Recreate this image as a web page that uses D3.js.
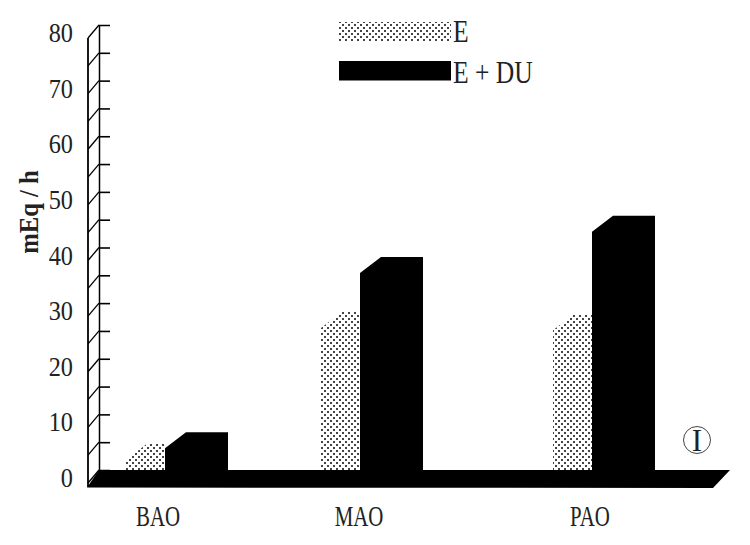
<!DOCTYPE html>
<html><head><meta charset="utf-8">
<script src="https://cdn.jsdelivr.net/npm/d3@7"></script>
<style>html,body{margin:0;padding:0;background:#fff}svg{display:block}text{font-family:"Liberation Serif",serif;fill:#222}</style>
</head><body><svg id="c" width="750" height="545"></svg>
<script>
const categories = ["BAO", "MAO", "PAO"];
const seriesNames = ["E", "E + DU"];
const valuesE = [4.7, 28.4, 28];
const valuesEDU = [6.8, 38.3, 45.7];
const yTicks = d3.range(0, 81, 5);
const yLabels = d3.range(0, 81, 10);
const yTitle = "mEq / h";
const panelLabel = "I";

const svg = d3.select("#c");
const y = d3.scaleLinear().domain([0, 80]).range([470, 25]);
const x = d3.scaleOrdinal().domain(categories).range([165, 360, 592]);
const xLabel = d3.scaleOrdinal().domain(categories).range([158, 359, 590]);
const backX = 99, frontX = 88, wallDy = 13, tickLen = 11;
const depthX = 21, depthY = 16;
const barW = {E: 39, D: 42};

const defs = svg.append("defs");
const pat = defs.append("pattern").attr("id", "stip").attr("patternUnits", "userSpaceOnUse")
  .attr("width", 6).attr("height", 6);
pat.append("rect").attr("width", 6).attr("height", 6).attr("fill", "#fff");
pat.append("rect").attr("x", 0).attr("y", 0).attr("width", 2).attr("height", 2).attr("fill", "#444");
pat.append("rect").attr("x", 3).attr("y", 3).attr("width", 2).attr("height", 2).attr("fill", "#444");

// wall
svg.append("line").attr("x1", frontX).attr("x2", frontX).attr("y1", y(80) + wallDy).attr("y2", y(0) + wallDy + 4)
  .attr("stroke", "#000").attr("stroke-width", 1.8);
const backAxis = d3.axisRight(y).tickValues(yTicks.filter(d => d > 0 && d < 80)).tickSize(tickLen).tickFormat("");
svg.append("g").attr("transform", `translate(${backX},0)`).call(backAxis)
  .call(g => g.selectAll("path").attr("stroke", "#000").attr("stroke-width", 1.5))
  .call(g => g.selectAll("line").attr("stroke", "#000").attr("stroke-width", 1.6));
svg.append("g").selectAll("line").data(yTicks).join("line")
  .attr("x1", backX).attr("y1", d => y(d))
  .attr("x2", frontX).attr("y2", d => y(d) + wallDy)
  .attr("stroke", "#000").attr("stroke-width", 1.3);

// tick labels
svg.append("g").selectAll("text").data(yLabels).join("text")
  .attr("transform", d => `translate(73,${y(d) + 17}) scale(.9,1)`)
  .attr("text-anchor", "end").attr("font-size", 27).text(d => d);

svg.append("text").attr("transform", "translate(38,212) rotate(-90) scale(.88,1)")
  .attr("text-anchor", "middle").attr("font-size", 28).attr("font-weight", "bold").text(yTitle);

// bars
function barPath(left, w, v) {
  const top = y(v) + depthY, base = y(0);
  return d3.line()([[left, base], [left, top], [left + depthX, top - depthY],
    [left + w + depthX, top - depthY], [left + w + depthX, base], [left, base]]);
}
svg.append("g").selectAll("path").data(categories).join("path")
  .attr("d", (c, i) => barPath(x(c) - barW.E, barW.E - depthX, valuesE[i]))
  .attr("fill", "url(#stip)");
svg.append("g").selectAll("path").data(categories).join("path")
  .attr("d", (c, i) => barPath(x(c), barW.D, valuesEDU[i]))
  .attr("fill", "#000");

// floor
svg.append("path").attr("d", d3.line()([[backX, y(0)], [730, y(0)], [713, y(0) + 18], [frontX - 1, y(0) + 17.5]]))
  .attr("fill", "#000");

// x labels
svg.append("g").selectAll("text").data(categories).join("text")
  .attr("transform", c => `translate(${xLabel(c)},526) scale(.72,1)`)
  .attr("text-anchor", "middle").attr("font-size", 29).text(c => c);

// legend
const lg = d3.scaleOrdinal().domain(seriesNames).range([22, 61]);
const lgText = d3.scaleOrdinal().domain(seriesNames).range([42, 83]);
svg.append("g").selectAll("rect").data(seriesNames).join("rect")
  .attr("x", 339).attr("width", 112).attr("y", d => lg(d)).attr("height", 19.5)
  .attr("fill", (d, i) => i ? "#000" : "url(#stip)");
svg.append("g").selectAll("text").data(seriesNames).join("text")
  .attr("transform", d => `translate(453,${lgText(d)}) scale(.8,1)`)
  .attr("font-size", 32).text(d => d);

// panel mark
svg.append("circle").attr("cx", 697).attr("cy", 440).attr("r", 13.5).attr("fill", "none").attr("stroke", "#444").attr("stroke-width", 1);
svg.append("text").attr("x", 697).attr("y", 451).attr("text-anchor", "middle").attr("font-size", 31).text(panelLabel);
</script></body></html>
